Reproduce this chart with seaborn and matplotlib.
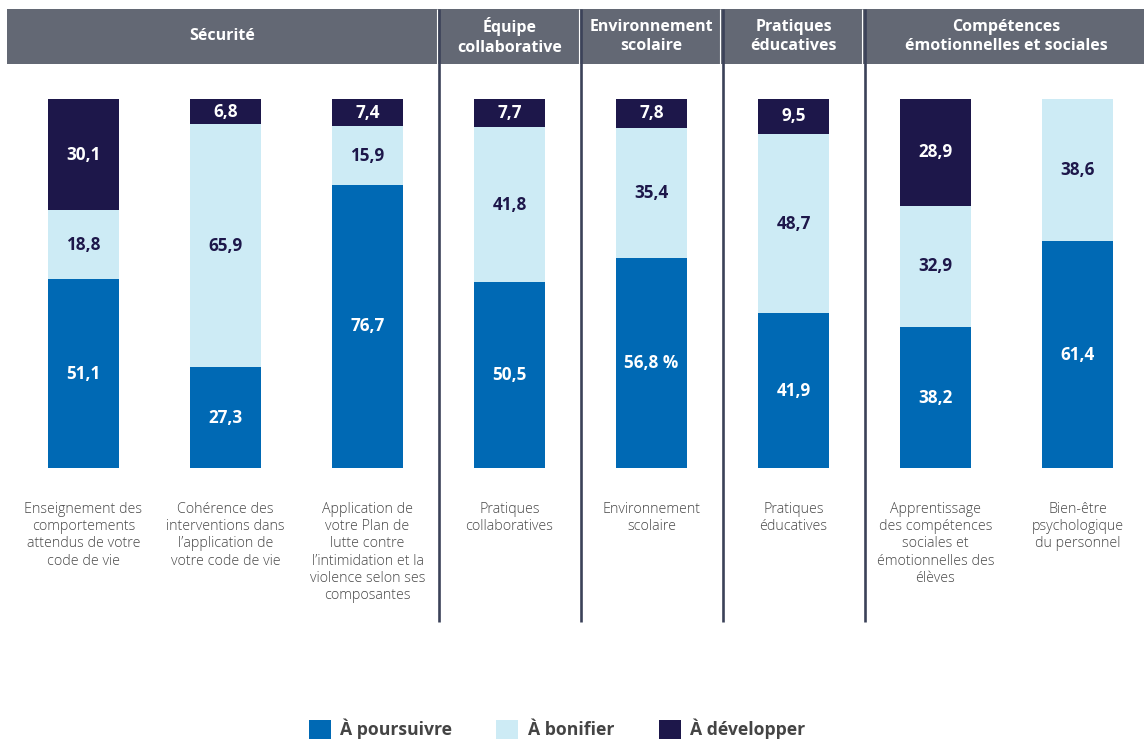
import numpy as np
import pandas as pd
import matplotlib.pyplot as plt
import seaborn as sns
from matplotlib.patches import Rectangle, Patch

# Data (%)
items = [
    "Enseignement des\ncomportements\nattendus de votre\ncode de vie",
    "Cohérence des\ninterventions dans\nl\u2019application de\nvotre code de vie",
    "Application de\nvotre Plan de\nlutte contre\nl\u2019intimidation et la\nviolence selon ses\ncomposantes",
    "Pratiques\ncollaboratives",
    "Environnement\nscolaire",
    "Pratiques\néducatives",
    "Apprentissage\ndes compétences\nsociales et\némotionnelles des\nélèves",
    "Bien-être\npsychologique\ndu personnel",
]
poursuivre = [51.1, 27.3, 76.7, 50.5, 56.8, 41.9, 38.2, 61.4]
bonifier = [18.8, 65.9, 15.9, 41.8, 35.4, 48.7, 32.9, 38.6]
developper = [30.1, 6.8, 7.4, 7.7, 7.8, 9.5, 28.9, 0.0]
suffix = ["", "", "", "", " %", "", "", ""]

groups = ["Sécurité", "Équipe\ncollaborative", "Environnement\nscolaire",
          "Pratiques\néducatives", "Compétences\némotionnelles et sociales"]
group_first = [0, 3, 4, 5, 6]
group_last = [2, 3, 4, 5, 7]

series = ["À poursuivre", "À bonifier", "À développer"]
colors = {"À poursuivre": "#0069b4", "À bonifier": "#cdebf5", "À développer": "#1d174a"}

df = pd.DataFrame({"item": items, "p": poursuivre, "b": bonifier, "d": developper})
df["pb"] = df["p"] + df["b"]
df["pbd"] = df["pb"] + df["d"]

sns.set_style("white")
plt.rcParams["font.family"] = ["Open Sans", "DejaVu Sans"]

fig = plt.figure(figsize=(11.44, 7.4), dpi=100)
ax = fig.add_axes([0, 0, 1, 1])

# stacked bars by overlaying cumulative totals
for col, s in [("pbd", "À développer"), ("pb", "À bonifier"), ("p", "À poursuivre")]:
    sns.barplot(data=df, x="item", y=col, order=items, color=colors[s], saturation=1,
                width=0.5, linewidth=0, ax=ax, errorbar=None)

px = 3.69  # pixels per percentage point
x0 = -83.5 / 142
ax.set_xlim(x0, x0 + 1144 / 142)
ax.set_ylim(-(740 - 468) / px, 468 / px)
ax.axis("off")

# value labels
for i in range(len(items)):
    p, b, d = poursuivre[i], bonifier[i], developper[i]
    ax.text(i, p / 2, f"{p:.1f}".replace(".", ",") + suffix[i], ha="center", va="center",
            color="white", fontsize=12.3, fontweight="bold")
    ax.text(i, p + b / 2, f"{b:.1f}".replace(".", ","), ha="center", va="center",
            color="#1d174a", fontsize=12.3, fontweight="bold")
    if d > 0:
        ax.text(i, p + b + d / 2, f"{d:.1f}".replace(".", ","), ha="center", va="center",
                color="white", fontsize=12.3, fontweight="bold")
    ax.text(i, -34 / px, items[i], ha="center", va="top", color="#474747",
            fontsize=10.3, fontweight="light", linespacing=1.2)

# header band
top, bot = (468 - 9) / px, (468 - 64) / px
ax.add_patch(Rectangle((x0 + 7 / 142, bot), 10, top - bot, color="#636874", lw=0, zorder=3))
for g, a, b in zip(groups, group_first, group_last):
    ax.text((a + b) / 2 if a > 0 else 0.98, (top + bot) / 2, g, ha="center", va="center",
            color="white", fontsize=11.5, fontweight="bold", linespacing=1.3, zorder=5)

# separators
for s in [2.5, 3.5, 4.5, 5.5]:
    ax.plot([s, s], [top, -(622 - 468) / px], color="#3b4259", lw=1.9, zorder=4,
            solid_capstyle="butt")
    ax.plot([s - 2 / 142, s - 2 / 142], [top, bot], color="white", lw=0.8, zorder=4,
            solid_capstyle="butt")

# legend
handles = [Patch(facecolor=colors[s], edgecolor="none") for s in series]
leg = fig.legend(handles, series, loc="center", bbox_to_anchor=(557 / 1144, 1 - 729 / 740),
                 ncol=3, frameon=False, handlelength=1.25, handleheight=1.25,
                 handletextpad=0.55, columnspacing=2.5,
                 prop={"weight": "bold", "size": 12.7})
for t in leg.get_texts():
    t.set_color("#444444")

fig.savefig("out.png", dpi=100)
